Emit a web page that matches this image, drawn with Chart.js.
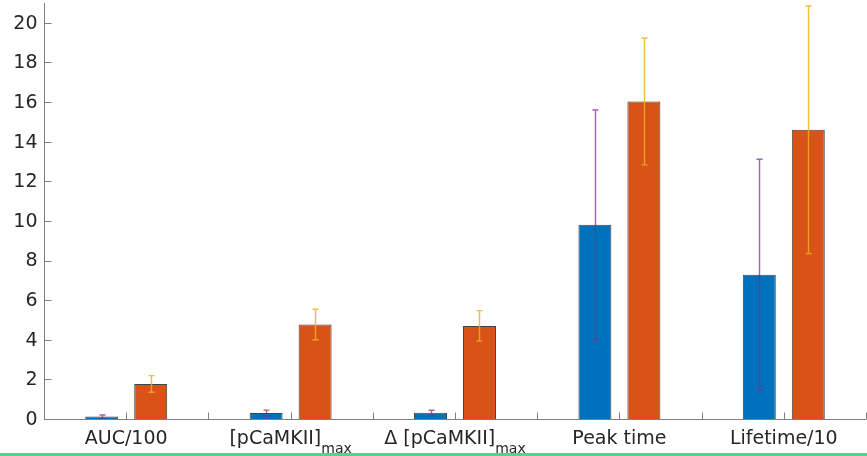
<!DOCTYPE html>
<html>
<head>
<meta charset="utf-8">
<script src="https://cdn.jsdelivr.net/npm/chart.js@4"></script>
<style>
  html, body { margin: 0; padding: 0; background: #fff; }
  #wrap { position: relative; width: 867px; height: 456px; }
  #wrap::after { content: ""; position: absolute; left: 0; right: 0; bottom: 0; height: 3px; background: #5ccf8f; }
</style>
</head>
<body>
<div id="wrap"><canvas id="c" width="867" height="456"></canvas></div>
<script>
// Category labels: main text plus optional subscript
const categories = ['AUC/100', '[pCaMKII]', '\u0394 [pCaMKII]', 'Peak time', 'Lifetime/10'];
const subscripts = ['', 'max', 'max', '', ''];

// Control vs. stimulated group means and their standard deviations
const controlMean = [0.12, 0.30, 0.32, 9.80, 7.28];
const controlErr  = [0.08, 0.15, 0.12, 5.80, 5.83];
const stimMean    = [1.77, 4.77, 4.70, 16.03, 14.60];
const stimErr     = [0.42, 0.77, 0.77, 3.20, 6.25];

// Axis ticks
const yTicks = [0, 2, 4, 6, 8, 10, 12, 14, 16, 18, 20];
const yMax = 21;

const AXIS = '#808080';
const TEXT = '#262626';
const FONT = '"DejaVu Sans"';

const errorBars = {
  id: 'errorBars',
  afterDatasetsDraw(chart) {
    const ctx = chart.ctx;
    const y = chart.scales.y;
    chart.data.datasets.forEach((ds, di) => {
      const meta = chart.getDatasetMeta(di);
      ctx.save();
      ctx.strokeStyle = ds.errColor;
      ctx.lineWidth = 1.4;
      meta.data.forEach((bar, i) => {
        const m = ds.data[i], e = ds.err[i];
        const yt = y.getPixelForValue(m + e);
        const yb = y.getPixelForValue(Math.max(m - e, 0));
        const x = Math.round(bar.x) + 0.5;
        ctx.beginPath();
        ctx.moveTo(x, yt); ctx.lineTo(x, yb);
        ctx.moveTo(x - 3, yt); ctx.lineTo(x + 3, yt);
        if (m - e > 0) { ctx.moveTo(x - 3, yb); ctx.lineTo(x + 3, yb); }
        ctx.stroke();
      });
      ctx.restore();
    });
  }
};

const axesPlugin = {
  id: 'axesPlugin',
  afterDraw(chart) {
    const ctx = chart.ctx;
    const xs = chart.scales.x, ys = chart.scales.y;
    const area = chart.chartArea;
    const y0 = Math.round(ys.getPixelForValue(0)) + 0.5;
    const xL = Math.round(area.left) + 0.5;
    ctx.save();
    ctx.strokeStyle = AXIS;
    ctx.lineWidth = 1;
    // axis lines
    ctx.beginPath();
    ctx.moveTo(xL, area.top); ctx.lineTo(xL, y0);
    ctx.lineTo(area.right, y0);
    ctx.stroke();
    // y ticks pointing inward
    ctx.beginPath();
    yTicks.forEach(v => {
      const py = Math.round(ys.getPixelForValue(v)) + 0.5;
      ctx.moveTo(xL, py); ctx.lineTo(xL + 7, py);
    });
    // x ticks at category centres and midpoints
    for (let k = -0.5; k <= categories.length - 0.5; k += 0.5) {
      const px = Math.round(xs.getPixelForValue(k)) + 0.5;
      ctx.moveTo(px, y0); ctx.lineTo(px, y0 - 7);
    }
    ctx.stroke();

    // y tick labels
    ctx.fillStyle = TEXT;
    ctx.font = '19px ' + FONT;
    ctx.textAlign = 'right';
    ctx.textBaseline = 'middle';
    yTicks.forEach(v => {
      ctx.fillText(String(v), xL - 7, ys.getPixelForValue(v) + 1);
    });

    // x labels with subscripts
    ctx.textAlign = 'left';
    ctx.textBaseline = 'alphabetic';
    categories.forEach((lab, i) => {
      const cx = xs.getPixelForValue(i);
      ctx.font = '19px ' + FONT;
      const w1 = ctx.measureText(lab).width;
      ctx.font = '14px ' + FONT;
      const w2 = subscripts[i] ? ctx.measureText(subscripts[i]).width : 0;
      const x0 = cx - (w1 + w2) / 2;
      ctx.font = '19px ' + FONT;
      ctx.fillText(lab, x0, y0 + 24);
      if (subscripts[i]) {
        ctx.font = '14px ' + FONT;
        ctx.fillText(subscripts[i], x0 + w1, y0 + 33);
      }
    });
    ctx.restore();
  }
};

new Chart(document.getElementById('c'), {
  type: 'bar',
  data: {
    labels: categories,
    datasets: [
      { label: 'Control', data: controlMean, err: controlErr, errColor: 'rgba(126,47,142,0.75)',
        backgroundColor: '#0072BD', borderColor: 'rgba(20,20,20,0.8)', borderWidth: 1,
        categoryPercentage: 0.596, barPercentage: 0.673 },
      { label: 'Stimulated', data: stimMean, err: stimErr, errColor: 'rgba(237,177,32,0.85)',
        backgroundColor: '#D95319', borderColor: 'rgba(20,20,20,0.8)', borderWidth: 1,
        categoryPercentage: 0.596, barPercentage: 0.673 }
    ]
  },
  options: {
    responsive: false,
    animation: false,
    layout: { padding: { left: 44, right: 1, top: 3, bottom: 37 } },
    plugins: { legend: { display: false }, tooltip: { enabled: false } },
    scales: {
      x: { display: false, offset: true },
      y: { display: false, min: 0, max: yMax }
    }
  },
  plugins: [errorBars, axesPlugin]
});
</script>
</body>
</html>
